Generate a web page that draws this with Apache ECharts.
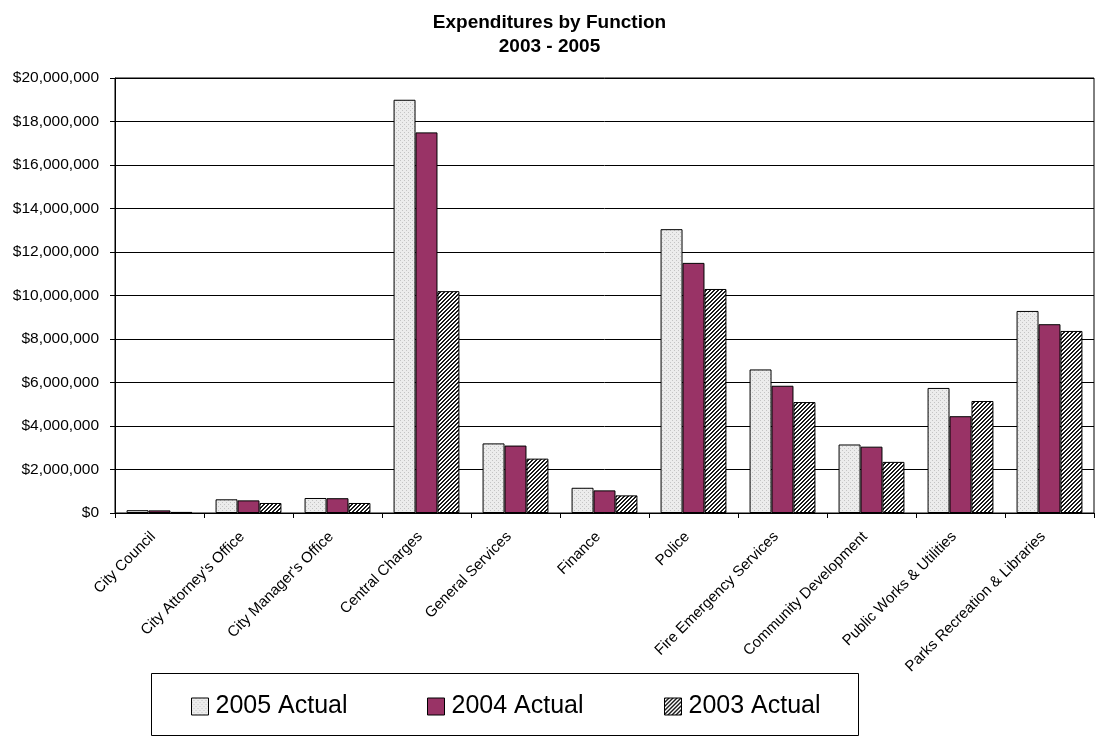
<!DOCTYPE html>
<html>
<head>
<meta charset="utf-8">
<title>Expenditures by Function 2003 - 2005</title>
<script src="https://cdn.jsdelivr.net/npm/echarts@6/dist/echarts.min.js"></script>
<style>
  html, body { margin: 0; padding: 0; background: #fff; }
  #chart { width: 1099px; height: 737px; }
</style>
</head>
<body>
<div id="chart"></div>
<script>
// Departments along the category axis
const categories = [
  'City Council', "City Attorney's Office", "City Manager's Office", 'Central Charges',
  'General Services', 'Finance', 'Police', 'Fire Emergency Services',
  'Community Development', 'Public Works & Utilities', 'Parks Recreation & Libraries'
];

// Actual expenditures in dollars
const actual2005 = [130000, 630000, 690000, 19000000, 3200000, 1160000, 13050000, 6600000, 3150000, 5750000, 9290000];
const actual2004 = [120000, 580000, 680000, 17500000, 3100000, 1040000, 11500000, 5850000, 3050000, 4450000, 8680000];
const actual2003 = [50000, 460000, 460000, 10200000, 2500000, 810000, 10300000, 5100000, 2350000, 5150000, 8370000];

const seriesNames = ['2005 Actual', '2004 Actual', '2003 Actual'];

// Value axis range
const yMin = 0;
const yMax = 20000000;
const yStep = 2000000;

// Fill patterns drawn on small tiles
function dottedTile() {
  const c = document.createElement('canvas');
  c.width = 4; c.height = 4;
  const g = c.getContext('2d');
  g.fillStyle = '#ececec';
  g.fillRect(0, 0, 4, 4);
  g.fillStyle = '#c4c4c4';
  g.fillRect(0, 0, 1, 1);
  g.fillRect(2, 2, 1, 1);
  return c;
}
function hatchTile() {
  const c = document.createElement('canvas');
  c.width = 4; c.height = 4;
  const g = c.getContext('2d');
  g.fillStyle = '#ffffff';
  g.fillRect(0, 0, 4, 4);
  g.fillStyle = '#1a1a1a';
  // rising diagonal stripes, two pixels thick
  for (let i = 0; i < 4; i++) {
    g.fillRect(i, 3 - i, 1, 1);
    g.fillRect((i + 1) % 4, 3 - i, 1, 1);
  }
  return c;
}

const fills = [
  { image: dottedTile(), repeat: 'repeat' },
  '#993366',
  { image: hatchTile(), repeat: 'repeat' }
];
const seriesData = [actual2005, actual2004, actual2003];

const fontFamily = 'Liberation Sans, Arial, sans-serif';

function money(v) {
  return '$' + v.toLocaleString('en-US');
}

const chart = echarts.init(document.getElementById('chart'), null, { renderer: 'canvas' });

const legendLefts = [191, 427, 664];

chart.setOption({
  animation: false,
  backgroundColor: '#ffffff',
  textStyle: { fontFamily: fontFamily },
  title: {
    text: 'Expenditures by Function\n2003 - 2005',
    left: 'center',
    top: 6,
    textStyle: { fontFamily: fontFamily, fontSize: 19, fontWeight: 'bold', color: '#000', lineHeight: 24 }
  },
  legend: seriesNames.map((name, i) => ({
    data: [name],
    left: legendLefts[i],
    top: 694,
    padding: 0,
    icon: 'rect',
    itemWidth: 17,
    itemHeight: 17,
    itemStyle: { borderColor: '#000', borderWidth: 1 },
    textStyle: { fontFamily: fontFamily, fontSize: 25, color: '#000', padding: [0, 0, 0, 2] }
  })),
  graphic: [{
    type: 'rect',
    shape: { x: 151.5, y: 673.5, width: 707, height: 62 },
    style: { fill: 'none', stroke: '#000', lineWidth: 1 },
    silent: true
  }],
  grid: {
    left: 115,
    right: 5,
    top: 78,
    bottom: 224,
    show: true,
    borderColor: '#000',
    borderWidth: 1
  },
  xAxis: {
    type: 'category',
    data: categories,
    axisLine: { lineStyle: { color: '#000', width: 1 } },
    axisTick: { show: true, length: 5, lineStyle: { color: '#000' } },
    axisLabel: {
      interval: 0,
      rotate: 45,
      margin: 15,
      padding: [0, 9, 0, 0],
      color: '#000',
      fontSize: 15,
      fontFamily: fontFamily
    }
  },
  yAxis: {
    type: 'value',
    min: yMin,
    max: yMax,
    interval: yStep,
    axisLine: { show: true, lineStyle: { color: '#000', width: 1 } },
    axisTick: { show: true, length: 5, lineStyle: { color: '#000' } },
    splitLine: { show: true, lineStyle: { color: '#000', width: 1 } },
    axisLabel: {
      margin: 16,
      color: '#000',
      fontSize: 15.5,
      fontFamily: fontFamily,
      formatter: money
    }
  },
  series: seriesNames.map((name, i) => ({
    name: name,
    type: 'bar',
    data: seriesData[i],
    barGap: '0%',
    barCategoryGap: '26%',
    itemStyle: { color: fills[i], borderColor: '#000', borderWidth: 1 }
  }))
});
</script>
</body>
</html>
